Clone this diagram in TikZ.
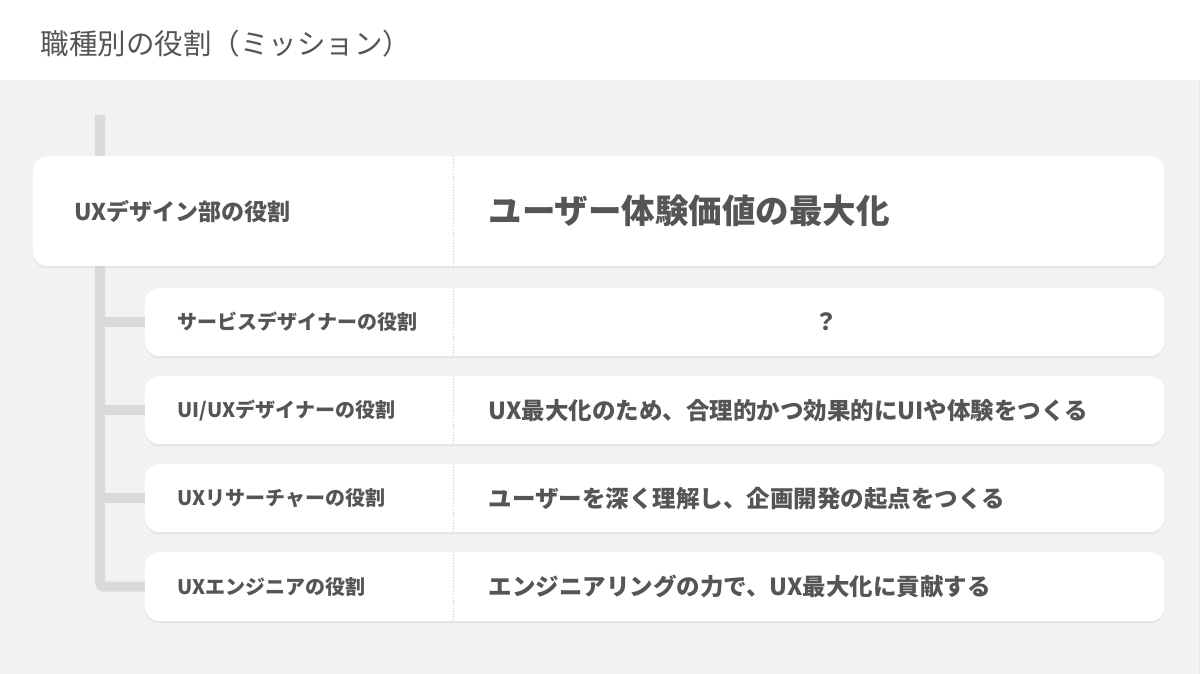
\documentclass[tikz,border=0pt]{standalone}
\usepackage{fontspec}
\setmainfont{Noto Sans CJK JP}
\usetikzlibrary{positioning, shadows, backgrounds}
\definecolor{pagebg}{HTML}{F2F2F2}
\definecolor{treegray}{HTML}{DADADA}
\definecolor{textgray}{HTML}{555555}
\definecolor{divgray}{HTML}{C8C8C8}
\tikzset{
    card/.style={draw=none, fill=white, rounded corners=14pt, anchor=north west,
        drop shadow={opacity=0.12, shadow xshift=0pt, shadow yshift=-2pt}},
    rolelabel/.style={anchor=west, text=textgray, font=\bfseries\fontsize{20}{22}\selectfont},
    rolemission/.style={anchor=west, text=textgray, font=\bfseries\fontsize{23.5}{26}\selectfont},
    treeline/.style={draw=treegray, line width=10pt, rounded corners=4pt},
    divider/.style={draw=divgray, dotted, line width=0.8pt}
}
\begin{document}
\begin{tikzpicture}[x=1pt, y=-1pt]
    \useasboundingbox (0,0) rectangle (1200,674);
    \node[anchor=west, text=textgray, font=\fontsize{28.5}{32}\selectfont] (title) at (37,44) {職種別の役割（ミッション）};
    % tree
    \coordinate (spinetop) at (100,115);
    % cards
    \node[card, minimum width=1131pt, minimum height=110pt] (uxdept) at (33,156) {};
    \node[card, minimum width=1019pt, minimum height=68pt] (svc) at (145,288) {};
    \node[card, minimum width=1019pt, minimum height=68pt] (uiux) at (145,376) {};
    \node[card, minimum width=1019pt, minimum height=68pt] (research) at (145,464) {};
    \node[card, minimum width=1019pt, minimum height=69pt] (eng) at (145,552) {};
    \begin{scope}[on background layer]
    \fill[white] (0,0) rectangle (1200,80);
    \fill[pagebg] (0,80) rectangle (1200,674);
    \draw[treegray!60, line width=1pt] (1199,80) -- (1199,674);
    \draw[treeline] (spinetop) |- (eng.west);
    \draw[treeline] (spinetop |- svc.west) -- (svc.west);
    \draw[treeline] (spinetop |- uiux.west) -- (uiux.west);
    \draw[treeline] (spinetop |- research.west) -- (research.west);
    \end{scope}
    % dividers
    \foreach \rolecard in {uxdept, svc, uiux, research, eng}
        \draw[divider] (453,0 |- \rolecard.north) -- (453,0 |- \rolecard.south);
    % labels
    \node[rolelabel, font=\bfseries\fontsize{23}{26}\selectfont] (uxdeptname) at (71,0 |- uxdept.west) {UXデザイン部の役割};
    \node[rolemission, font=\bfseries\fontsize{33.5}{38}\selectfont] (uxdeptmission) at (485,0 |- uxdept.west) {ユーザー体験価値の最大化};
    \node[rolelabel] (svcname) at (174,0 |- svc.west) {サービスデザイナーの役割};
    \node[rolemission, anchor=center] (svcmission) at (826,0 |- svc.west) {？};
    \node[rolelabel] (uiuxname) at (174,0 |- uiux.west) {UI/UXデザイナーの役割};
    \node[rolemission] (uiuxmission) at (485,0 |- uiux.west) {UX最大化のため、合理的かつ効果的にUIや体験をつくる};
    \node[rolelabel] (researchname) at (174,0 |- research.west) {UXリサーチャーの役割};
    \node[rolemission] (researchmission) at (485,0 |- research.west) {ユーザーを深く理解し、企画開発の起点をつくる};
    \node[rolelabel] (engname) at (174,0 |- eng.west) {UXエンジニアの役割};
    \node[rolemission] (engmission) at (485,0 |- eng.west) {エンジニアリングの力で、UX最大化に貢献する};
\end{tikzpicture}
\end{document}
